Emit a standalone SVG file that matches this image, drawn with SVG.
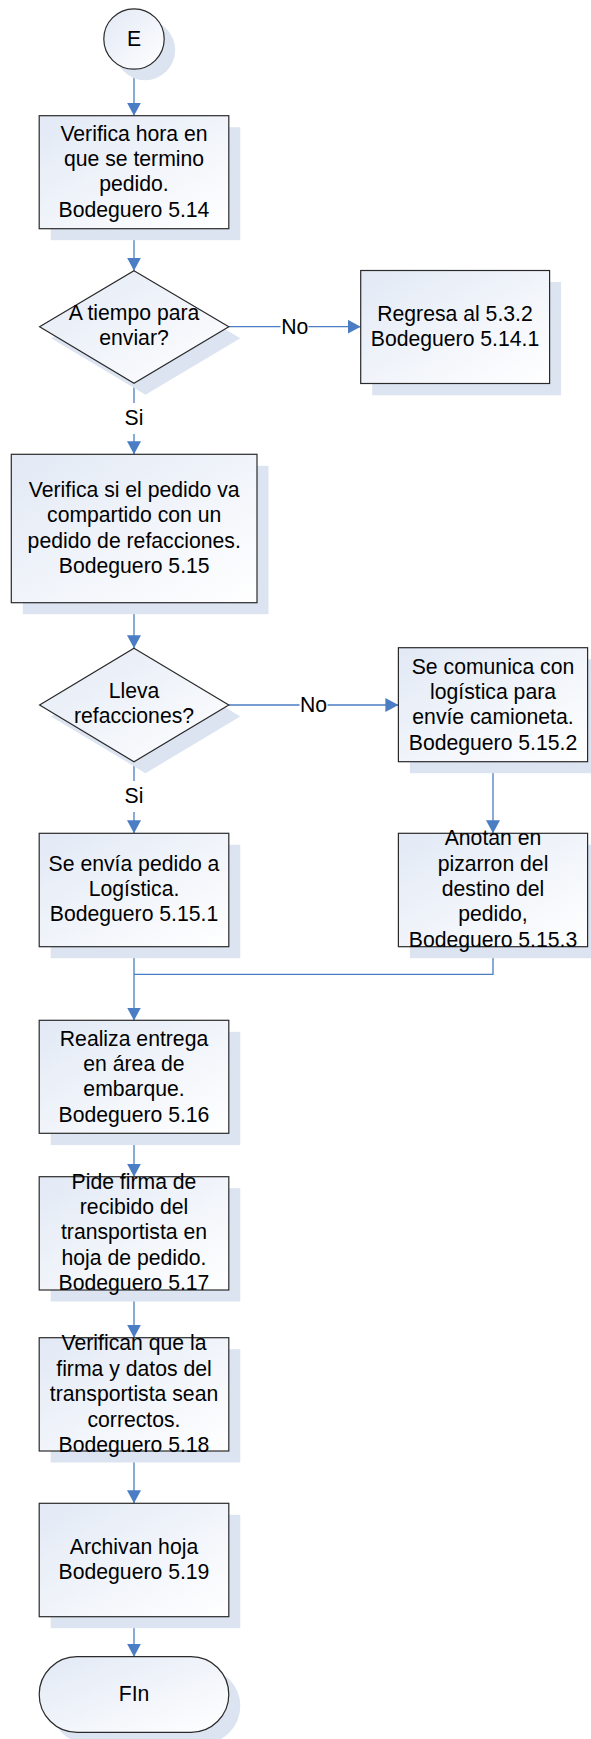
<svg xmlns="http://www.w3.org/2000/svg" width="591" height="1739" viewBox="0 0 591 1739">
<defs>
<linearGradient id="fill" x1="0" y1="0" x2="1" y2="1">
<stop offset="0" stop-color="#e2e9f5"/>
<stop offset="1" stop-color="#ffffff"/>
</linearGradient>
<marker id="arr" markerUnits="userSpaceOnUse" markerWidth="14" markerHeight="14" refX="13" refY="7" orient="auto">
<path d="M0,0 L13,7 L0,14 Z" fill="#4a7dc4"/>
</marker>
<style>
.shape{fill:url(#fill);stroke:#2a2a2a;stroke-width:1.2}
.shadow{fill:#dce4f1;stroke:none}
.t{font-family:"Liberation Sans",Arial,sans-serif;font-size:21.2px;fill:#000;text-anchor:middle}
.c{fill:none;stroke:#4a7dc4;stroke-width:1.3}
.lbg{fill:#fff;stroke:none}
</style>
</defs>
<rect width="591" height="1739" fill="#fff"/>

<g id="connectors">
<line class="c" x1="134" y1="69" x2="134" y2="115.7" marker-end="url(#arr)"/>
<line class="c" x1="134" y1="228.7" x2="134" y2="270.7" marker-end="url(#arr)"/>
<line class="c" x1="228.8" y1="326.7" x2="360.7" y2="326.7" marker-end="url(#arr)"/>
<line class="c" x1="134" y1="383.3" x2="134" y2="454.3" marker-end="url(#arr)"/>
<line class="c" x1="134" y1="602.7" x2="134" y2="648.3" marker-end="url(#arr)"/>
<line class="c" x1="228.8" y1="705" x2="398.4" y2="705" marker-end="url(#arr)"/>
<line class="c" x1="134" y1="761.7" x2="134" y2="833.3" marker-end="url(#arr)"/>
<line class="c" x1="493" y1="761.7" x2="493" y2="833.3" marker-end="url(#arr)"/>
<line class="c" x1="134" y1="946.7" x2="134" y2="1020.5" marker-end="url(#arr)"/>
<polyline class="c" points="493,946.7 493,974.3 134,974.3"/>
<line class="c" x1="134" y1="1133.3" x2="134" y2="1176.7" marker-end="url(#arr)"/>
<line class="c" x1="134" y1="1290" x2="134" y2="1337.7" marker-end="url(#arr)"/>
<line class="c" x1="134" y1="1451" x2="134" y2="1503.3" marker-end="url(#arr)"/>
<line class="c" x1="134" y1="1616.7" x2="134" y2="1656.7" marker-end="url(#arr)"/>
<rect class="lbg" x="280.5" y="316" width="28" height="20"/>
<text class="t" x="294.7" y="333.5">No</text>
<rect class="lbg" x="123" y="403" width="22" height="31"/>
<text class="t" x="134" y="425">Si</text>
<rect class="lbg" x="299.5" y="695" width="28" height="20"/>
<text class="t" x="313.6" y="712">No</text>
<rect class="lbg" x="123" y="781" width="22" height="31"/>
<text class="t" x="134" y="803.3">Si</text>
</g>

<g id="start">
<circle class="shadow" cx="145" cy="50" r="30.2"/>
<circle class="shape" cx="134" cy="39" r="30.2"/>
<text class="t" x="134" y="46">E</text>
</g>

<g id="box1">
<rect class="shadow" x="50.7" y="127.2" width="189.6" height="113"/>
<rect class="shape" x="39.2" y="115.7" width="189.6" height="113"/>
<text class="t"><tspan x="134" y="140.5">Verifica hora en</tspan><tspan x="134" y="165.9">que se termino</tspan><tspan x="134" y="191.3">pedido.</tspan><tspan x="134" y="216.7">Bodeguero 5.14</tspan></text>
</g>

<g id="dec1">
<polygon class="shadow" points="145.5,282.2 240.3,338.2 145.5,394.8 51.1,338.2"/>
<polygon class="shape" points="134,270.7 228.8,326.7 134,383.3 39.6,326.7"/>
<text class="t"><tspan x="134" y="319.8">A tiempo para</tspan><tspan x="134" y="345.2">enviar?</tspan></text>
</g>

<g id="regresa">
<rect class="shadow" x="372.2" y="282" width="188.9" height="113.3"/>
<rect class="shape" x="360.7" y="270.5" width="188.9" height="113"/>
<text class="t"><tspan x="455" y="321">Regresa al 5.3.2</tspan><tspan x="455" y="346.4">Bodeguero 5.14.1</tspan></text>
</g>

<g id="box2">
<rect class="shadow" x="22.8" y="465.8" width="245.7" height="148.4"/>
<rect class="shape" x="11.3" y="454.3" width="245.7" height="148.4"/>
<text class="t"><tspan x="134.2" y="497">Verifica si el pedido va</tspan><tspan x="134.2" y="522.4">compartido con un</tspan><tspan x="134.2" y="547.8">pedido de refacciones.</tspan><tspan x="134.2" y="573.2">Bodeguero 5.15</tspan></text>
</g>

<g id="dec2">
<polygon class="shadow" points="145.5,659.8 240.3,716.5 145.5,773.2 51.1,716.5"/>
<polygon class="shape" points="134,648.3 228.8,705 134,761.7 39.6,705"/>
<text class="t"><tspan x="134" y="698">Lleva</tspan><tspan x="134" y="723.4">refacciones?</tspan></text>
</g>

<g id="box3">
<rect class="shadow" x="409.9" y="659.2" width="189.2" height="114"/>
<rect class="shape" x="398.4" y="647.7" width="189.2" height="114"/>
<text class="t"><tspan x="493" y="673.5">Se comunica con</tspan><tspan x="493" y="698.9">logística para</tspan><tspan x="493" y="724.3">envíe camioneta.</tspan><tspan x="493" y="749.7">Bodeguero 5.15.2</tspan></text>
</g>

<g id="box4">
<rect class="shadow" x="50.7" y="844.8" width="189.6" height="113.4"/>
<rect class="shape" x="39.2" y="833.3" width="189.6" height="113.4"/>
<text class="t"><tspan x="134" y="870.5">Se envía pedido a</tspan><tspan x="134" y="895.9">Logística.</tspan><tspan x="134" y="921.3">Bodeguero 5.15.1</tspan></text>
</g>

<g id="box5">
<rect class="shadow" x="409.9" y="844.8" width="189.2" height="113.4"/>
<rect class="shape" x="398.4" y="833.3" width="189.2" height="113.4"/>
<text class="t"><tspan x="493" y="845.2">Anotan en</tspan><tspan x="493" y="870.6">pizarron del</tspan><tspan x="493" y="896">destino del</tspan><tspan x="493" y="921.4">pedido,</tspan><tspan x="493" y="946.8">Bodeguero 5.15.3</tspan></text>
</g>

<g id="box6">
<rect class="shadow" x="50.7" y="1031.8" width="189.6" height="113.3"/>
<rect class="shape" x="39.2" y="1020.3" width="189.6" height="113"/>
<text class="t"><tspan x="134" y="1045.5">Realiza entrega</tspan><tspan x="134" y="1070.9">en área de</tspan><tspan x="134" y="1096.3">embarque.</tspan><tspan x="134" y="1121.7">Bodeguero 5.16</tspan></text>
</g>

<g id="box7">
<rect class="shadow" x="50.7" y="1188.2" width="189.6" height="113.3"/>
<rect class="shape" x="39.2" y="1176.7" width="189.6" height="113.3"/>
<text class="t"><tspan x="134" y="1188.6">Pide firma de</tspan><tspan x="134" y="1214">recibido del</tspan><tspan x="134" y="1239.4">transportista en</tspan><tspan x="134" y="1264.8">hoja de pedido.</tspan><tspan x="134" y="1290.2">Bodeguero 5.17</tspan></text>
</g>

<g id="box8">
<rect class="shadow" x="50.7" y="1349.2" width="189.6" height="113.3"/>
<rect class="shape" x="39.2" y="1337.7" width="189.6" height="113.3"/>
<text class="t"><tspan x="134" y="1350.3">Verifican que la</tspan><tspan x="134" y="1375.7">firma y datos del</tspan><tspan x="134" y="1401.1">transportista sean</tspan><tspan x="134" y="1426.5">correctos.</tspan><tspan x="134" y="1451.9">Bodeguero 5.18</tspan></text>
</g>

<g id="box9">
<rect class="shadow" x="50.7" y="1514.8" width="189.6" height="113.4"/>
<rect class="shape" x="39.2" y="1503.3" width="189.6" height="113.4"/>
<text class="t"><tspan x="134" y="1553.5">Archivan hoja</tspan><tspan x="134" y="1578.9">Bodeguero 5.19</tspan></text>
</g>

<g id="end">
<rect class="shadow" x="50.7" y="1668.2" width="189.6" height="75.6" rx="37.8" ry="37.8"/>
<rect class="shape" x="39.2" y="1656.7" width="189.6" height="75.6" rx="37.8" ry="37.8"/>
<text class="t" x="134" y="1701">FIn</text>
</g>
</svg>
